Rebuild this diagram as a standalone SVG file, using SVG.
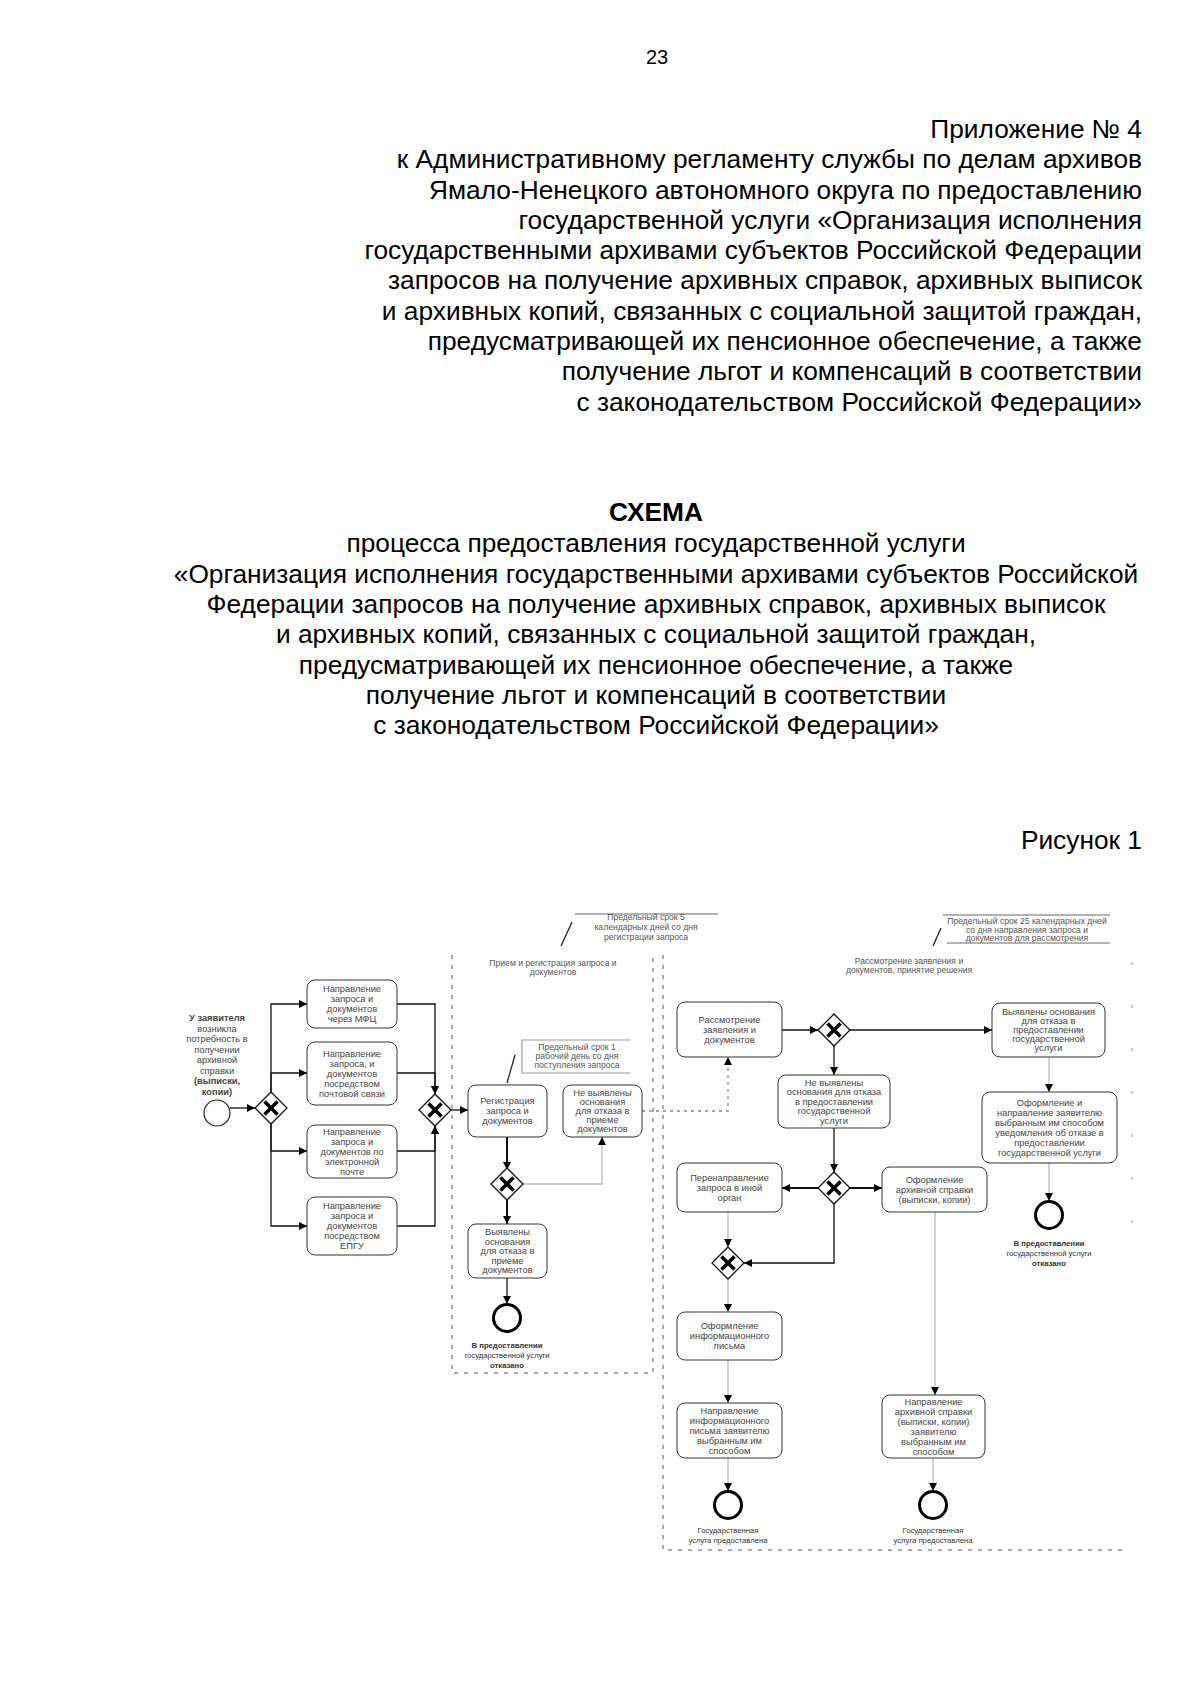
<svg xmlns="http://www.w3.org/2000/svg" xmlns:xlink="http://www.w3.org/1999/xlink" width="1200" height="1697" viewBox="0 0 1200 1697">
<style>
.hdr{font-family:"Liberation Sans",Arial,sans-serif;font-size:26.3px;fill:#000}
.r{text-anchor:end}
.c{text-anchor:middle}
.b{font-weight:bold}
.t{font-family:"Liberation Sans",Arial,sans-serif;font-size:9.3px;fill:#444;text-anchor:middle}
.lb{font-family:"Liberation Sans",Arial,sans-serif;font-size:7.7px;fill:#333;text-anchor:middle}
.s{font-family:"Liberation Sans",Arial,sans-serif;font-size:8.6px;fill:#555;text-anchor:middle}
.box{fill:#fff;stroke:#333;stroke-width:1}
.gw{fill:#fff;stroke:#111;stroke-width:1.3}
.gx{stroke:#000;stroke-width:3.6;stroke-linecap:butt}
.flow{fill:none;stroke:#111;stroke-width:1.3;marker-end:url(#ah)}
.faint{stroke:#bbb}
.msg{stroke-dasharray:3 4;stroke:#888}
.pool{fill:none;stroke:#555;stroke-width:1;stroke-dasharray:4 6}
.ann{fill:none;stroke:#999;stroke-width:1.6}
.assoc{fill:none;stroke:#222;stroke-width:1.3}
.endc{fill:#fff;stroke:#000;stroke-width:3}
.startc{fill:#fff;stroke:#222;stroke-width:1.2}
</style>
<defs>
<marker id="ah" markerWidth="8" markerHeight="8" refX="8" refY="4" orient="auto" markerUnits="userSpaceOnUse">
<path d="M0,0 L8,4 L0,8 z" fill="#000"/>
</marker>
<g id="gwShape">
<path class="gw" d="M0,-16 L16,0 L0,16 L-16,0 z"/>
<path class="gx" d="M-6.5,-6.5 L6.5,6.5 M-6.5,6.5 L6.5,-6.5"/>
</g>
</defs>

<g id="header">
<text class="hdr c" x="657" y="64" style="font-size:20px">23</text>
<text class="hdr r" x="1142" y="138">Приложение № 4</text>
<text class="hdr r" x="1142" y="168">к Административному регламенту службы по делам архивов</text>
<text class="hdr r" x="1142" y="198.5">Ямало-Ненецкого автономного округа по предоставлению</text>
<text class="hdr r" x="1142" y="229">государственной услуги «Организация исполнения</text>
<text class="hdr r" x="1142" y="259">государственными архивами субъектов Российской Федерации</text>
<text class="hdr r" x="1142" y="289">запросов на получение архивных справок, архивных выписок</text>
<text class="hdr r" x="1142" y="320">и архивных копий, связанных с социальной защитой граждан,</text>
<text class="hdr r" x="1142" y="350">предусматривающей их пенсионное обеспечение, а также</text>
<text class="hdr r" x="1142" y="380">получение льгот и компенсаций в соответствии</text>
<text class="hdr r" x="1142" y="410.5">с законодательством Российской Федерации»</text>
</g>

<g id="title">
<text class="hdr c b" x="656" y="521">СХЕМА</text>
<text class="hdr c" x="656" y="552">процесса предоставления государственной услуги</text>
<text class="hdr c" x="656" y="583">«Организация исполнения государственными архивами субъектов Российской</text>
<text class="hdr c" x="656" y="613">Федерации запросов на получение архивных справок, архивных выписок</text>
<text class="hdr c" x="656" y="643">и архивных копий, связанных с социальной защитой граждан,</text>
<text class="hdr c" x="656" y="674">предусматривающей их пенсионное обеспечение, а также</text>
<text class="hdr c" x="656" y="704">получение льгот и компенсаций в соответствии</text>
<text class="hdr c" x="656" y="734">с законодательством Российской Федерации»</text>
<text class="hdr r" x="1142" y="849">Рисунок 1</text>
</g>

<g id="pools">
<path class="pool" d="M452,955 V1373 H653 V955"/>
<path class="pool" d="M663,955 V1550 H1128"/>
<path class="pool" d="M1132,962 V1230" style="stroke-dasharray:3 40;stroke:#999"/>
<text class="s" x="553" y="966">Прием и регистрация запроса и</text>
<text class="s" x="553" y="975">документов</text>
<text class="s" x="909" y="964">Рассмотрение заявления и</text>
<text class="s" x="909" y="973">документов, принятие решения</text>
</g>

<g id="annotations">
<path class="ann" d="M575,914 H718"/>
<text class="s" x="646" y="920">Предельный срок 5</text>
<text class="s" x="646" y="930">календарных дней со дня</text>
<text class="s" x="646" y="940">регистрации запроса</text>
<path class="assoc" d="M561,946 L572,922"/>
<path class="ann" d="M630,1040 H522 V1073 H630" style="stroke-width:1.2"/>
<text class="s" x="577" y="1050">Предельный срок 1</text>
<text class="s" x="577" y="1059">рабочий день со дня</text>
<text class="s" x="577" y="1068">поступления запроса</text>
<path class="assoc" d="M507,1083 L515,1055"/>
<path class="ann" d="M943,915 H1110 M947,943 H1110"/>
<text class="s" x="1027" y="924">Предельный срок 25 календарных дней</text>
<text class="s" x="1027" y="932.5">со дня направления запроса и</text>
<text class="s" x="1027" y="941">документов для рассмотрения</text>
<path class="assoc" d="M933,946 L941,928"/>
</g>

<g id="connectors">
<path class="flow" d="M230,1108 H255"/>
<path class="flow" d="M271,1092 V1004 H307"/>
<path class="flow" d="M271,1092 V1073 H307"/>
<path class="flow" d="M271,1124 V1151 H307"/>
<path class="flow" d="M271,1124 V1226 H307"/>
<path class="flow" d="M397,1004 H435 V1094"/>
<path class="flow" d="M397,1073 H435 V1094"/>
<path class="flow" d="M397,1151 H435 V1126"/>
<path class="flow" d="M397,1226 H435 V1126"/>
<path class="flow" d="M451,1110 H468"/>
<path class="flow" d="M507,1137 V1170" style="stroke-width:2"/>
<path class="flow" d="M507,1198 V1224" style="stroke-width:2"/>
<path class="flow" d="M507,1278 V1304"/>
<path class="flow faint" d="M521,1184 H602 V1137"/>
<path class="flow msg" d="M642,1111 H728 V1057"/>
<path class="flow" d="M782,1030 H818"/>
<path class="flow" d="M850,1030 H992"/>
<path class="flow" d="M834,1046 V1075"/>
<path class="flow" d="M834,1128 V1172"/>
<path class="flow" d="M818,1188 H782" style="stroke-width:2"/>
<path class="flow" d="M850,1188 H882" style="stroke-width:2"/>
<path class="flow" d="M834,1204 V1263 H744"/>
<path class="flow faint" d="M728,1212 V1247"/>
<path class="flow faint" d="M728,1279 V1312"/>
<path class="flow faint" d="M728,1360 V1403"/>
<path class="flow faint" d="M728,1458 V1491"/>
<path class="flow faint" d="M1049,1057 V1092"/>
<path class="flow faint" d="M1049,1163 V1201"/>
<path class="flow faint" d="M935,1212 V1395"/>
<path class="flow faint" d="M933,1458 V1491"/>
</g>

<g id="start">
<circle class="startc" cx="217" cy="1113" r="13"/>
<text class="t b" x="217" y="1021">У заявителя</text>
<text class="t" x="217" y="1031.5">возникла</text>
<text class="t" x="217" y="1042">потребность в</text>
<text class="t" x="217" y="1052.5">получении</text>
<text class="t" x="217" y="1063">архивной</text>
<text class="t" x="217" y="1073.5">справки</text>
<text class="t b" x="217" y="1084">(выписки,</text>
<text class="t b" x="217" y="1094.5">копии)</text>
</g>

<g id="g1"><use xlink:href="#gwShape" x="271" y="1108"/></g>
<g id="g2"><use xlink:href="#gwShape" x="435" y="1110"/></g>
<g id="g3"><use xlink:href="#gwShape" x="507" y="1184"/></g>
<g id="g4"><use xlink:href="#gwShape" x="834" y="1030"/></g>
<g id="g5"><use xlink:href="#gwShape" x="834" y="1188"/></g>
<g id="g6"><use xlink:href="#gwShape" x="728" y="1263"/></g>

<g id="b1"><rect class="box" x="307" y="980" width="90" height="48" rx="8"/>
<text class="t" x="352" y="992">Направление</text><text class="t" x="352" y="1002">запроса и</text><text class="t" x="352" y="1012">документов</text><text class="t" x="352" y="1022">через МФЦ</text></g>

<g id="b2"><rect class="box" x="307" y="1042" width="90" height="63" rx="8"/>
<text class="t" x="352" y="1056.5">Направление</text><text class="t" x="352" y="1066.5">запроса, и</text><text class="t" x="352" y="1076.5">документов</text><text class="t" x="352" y="1086.5">посредством</text><text class="t" x="352" y="1096.5">почтовой связи</text></g>

<g id="b3"><rect class="box" x="307" y="1125" width="90" height="53" rx="8"/>
<text class="t" x="352" y="1134.5">Направление</text><text class="t" x="352" y="1144.5">запроса и</text><text class="t" x="352" y="1154.5">документов по</text><text class="t" x="352" y="1164.5">электронной</text><text class="t" x="352" y="1174.5">почте</text></g>

<g id="b4"><rect class="box" x="307" y="1197" width="90" height="58" rx="8"/>
<text class="t" x="352" y="1209">Направление</text><text class="t" x="352" y="1219">запроса и</text><text class="t" x="352" y="1229">документов</text><text class="t" x="352" y="1239">посредством</text><text class="t" x="352" y="1249">ЕПГУ</text></g>

<g id="reg"><rect class="box" x="468" y="1085" width="79" height="52" rx="8"/>
<text class="t" x="507.5" y="1104">Регистрация</text><text class="t" x="507.5" y="1114">запроса и</text><text class="t" x="507.5" y="1124">документов</text></g>

<g id="n1"><rect class="box" x="563" y="1085" width="79" height="52" rx="8"/>
<text class="t" x="602.5" y="1096">Не выявлены</text><text class="t" x="602.5" y="1105">основания</text><text class="t" x="602.5" y="1114">для отказа в</text><text class="t" x="602.5" y="1123">приеме</text><text class="t" x="602.5" y="1132">документов</text></g>

<g id="f1"><rect class="box" x="468" y="1224" width="79" height="54" rx="8"/>
<text class="t" x="507.5" y="1235">Выявлены</text><text class="t" x="507.5" y="1244.5">основания</text><text class="t" x="507.5" y="1254">для отказа в</text><text class="t" x="507.5" y="1263.5">приеме</text><text class="t" x="507.5" y="1273">документов</text></g>

<g id="e1"><circle class="endc" cx="507" cy="1318" r="13.5"/>
<text class="lb b" x="507" y="1348">В предоставлении</text><text class="lb" x="507" y="1358">государственной услуги</text><text class="lb b" x="507" y="1368">отказано</text></g>

<g id="rv"><rect class="box" x="677" y="1002" width="105" height="55" rx="8"/>
<text class="t" x="729.5" y="1022.5">Рассмотрение</text><text class="t" x="729.5" y="1032.5">заявления и</text><text class="t" x="729.5" y="1042.5">документов</text></g>

<g id="f2"><rect class="box" x="992" y="1003" width="113" height="54" rx="8"/>
<text class="t" x="1048.5" y="1015">Выявлены основания</text><text class="t" x="1048.5" y="1024">для отказа в</text><text class="t" x="1048.5" y="1033">предоставлении</text><text class="t" x="1048.5" y="1042">государственной</text><text class="t" x="1048.5" y="1051">услуги</text></g>

<g id="n2"><rect class="box" x="778" y="1075" width="112" height="53" rx="8"/>
<text class="t" x="834" y="1085.5">Не выявлены</text><text class="t" x="834" y="1095">основания для отказа</text><text class="t" x="834" y="1104.5">в предоставлении</text><text class="t" x="834" y="1114">государственной</text><text class="t" x="834" y="1123.5">услуги</text></g>

<g id="rd"><rect class="box" x="677" y="1163" width="105" height="49" rx="8"/>
<text class="t" x="729.5" y="1180.5">Перенаправление</text><text class="t" x="729.5" y="1190.5">запроса в иной</text><text class="t" x="729.5" y="1200.5">орган</text></g>

<g id="pa"><rect class="box" x="882" y="1167" width="105" height="45" rx="8"/>
<text class="t" x="934.5" y="1182.5">Оформление</text><text class="t" x="934.5" y="1192.5">архивной справки</text><text class="t" x="934.5" y="1202.5">(выписки, копии)</text></g>

<g id="nt"><rect class="box" x="982" y="1092" width="135" height="71" rx="8"/>
<text class="t" x="1049.5" y="1105.5">Оформление и</text><text class="t" x="1049.5" y="1115.5">направление заявителю</text><text class="t" x="1049.5" y="1125.5">выбранным им способом</text><text class="t" x="1049.5" y="1135.5">уведомления об отказе в</text><text class="t" x="1049.5" y="1145.5">предоставлении</text><text class="t" x="1049.5" y="1155.5">государственной услуги</text></g>

<g id="e2"><circle class="endc" cx="1049" cy="1215" r="13.5"/>
<text class="lb b" x="1049" y="1246">В предоставлении</text><text class="lb" x="1049" y="1256">государственной услуги</text><text class="lb b" x="1049" y="1265.5">отказано</text></g>

<g id="il"><rect class="box" x="677" y="1312" width="105" height="48" rx="8"/>
<text class="t" x="729.5" y="1329">Оформление</text><text class="t" x="729.5" y="1339">информационного</text><text class="t" x="729.5" y="1349">письма</text></g>

<g id="sl"><rect class="box" x="677" y="1403" width="105" height="55" rx="8"/>
<text class="t" x="729.5" y="1413.5">Направление</text><text class="t" x="729.5" y="1423.5">информационного</text><text class="t" x="729.5" y="1433.5">письма заявителю</text><text class="t" x="729.5" y="1443.5">выбранным им</text><text class="t" x="729.5" y="1453.5">способом</text></g>

<g id="e3"><circle class="endc" cx="728" cy="1505" r="13.5"/>
<text class="lb" x="728" y="1533">Государственная</text><text class="lb" x="728" y="1543">услуга предоставлена</text></g>

<g id="sa"><rect class="box" x="882" y="1395" width="103" height="63" rx="8"/>
<text class="t" x="933.5" y="1404.5">Направление</text><text class="t" x="933.5" y="1414.5">архивной справки</text><text class="t" x="933.5" y="1424.5">(выписки, копии)</text><text class="t" x="933.5" y="1434.5">заявителю</text><text class="t" x="933.5" y="1444.5">выбранным им</text><text class="t" x="933.5" y="1454.5">способом</text></g>

<g id="e4"><circle class="endc" cx="933" cy="1505" r="13.5"/>
<text class="lb" x="933" y="1533">Государственная</text><text class="lb" x="933" y="1543">услуга предоставлена</text></g>
</svg>
